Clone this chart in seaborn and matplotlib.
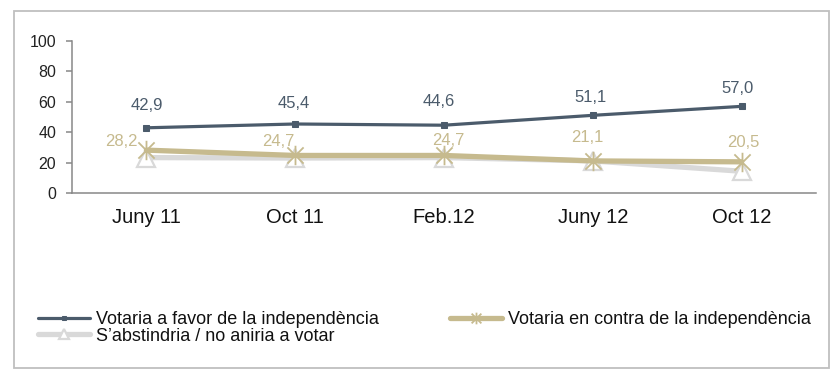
import numpy as np
import pandas as pd
import seaborn as sns
import matplotlib
matplotlib.use("Agg")
import matplotlib.pyplot as plt
from matplotlib.path import Path
from matplotlib.patches import Rectangle

# ---- data ----
categories = ["Juny 11", "Oct 11", "Feb.12", "Juny 12", "Oct 12"]
favor = [42.9, 45.4, 44.6, 51.1, 57.0]
contra = [28.2, 24.7, 24.7, 21.1, 20.5]
abstencio = [23.3, 23.0, 23.3, 21.1, 14.3]
series_names = ["Votaria a favor de la independència",
                "Votaria en contra de la independència",
                "S\u2019abstindria / no aniria a votar"]
yticks = [0, 20, 40, 60, 80, 100]

# ---- style ----
sns.set_theme(style="white")
plt.rcParams["font.family"] = ["Liberation Sans", "DejaVu Sans"]

C_FAV = "#4b5b6b"
C_CON = "#c6ba8e"
C_ABS = "#d9d9d9"
C_AX = "#888888"

W, H = 830, 370
fig = plt.figure(figsize=(W / 100, H / 100), dpi=100)
ax = fig.add_axes([72 / W, 1 - 193 / H, (816 - 72) / W, (193 - 41) / H])

df = pd.DataFrame({"cat": categories, "pos": np.arange(len(categories)),
                   "favor": favor, "contra": contra, "abs": abstencio})

star = Path([(-1, -1), (1, 1), (-1, 1), (1, -1), (0, -1.2), (0, 1.2)],
            [Path.MOVETO, Path.LINETO, Path.MOVETO, Path.LINETO, Path.MOVETO, Path.LINETO])

sns.lineplot(data=df, x="pos", y="abs", ax=ax, color=C_ABS, linewidth=3.8,
             marker="^", markersize=13, markerfacecolor="white",
             markeredgecolor=C_ABS, markeredgewidth=1.6, label=series_names[2], zorder=2)
sns.lineplot(data=df, x="pos", y="contra", ax=ax, color=C_CON, linewidth=3.8,
             marker=star, markersize=14, markeredgecolor=C_CON,
             markeredgewidth=1.3, label=series_names[1], zorder=3)
sns.lineplot(data=df, x="pos", y="favor", ax=ax, color=C_FAV, linewidth=2.3,
             marker="s", markersize=4.5, markeredgecolor=C_FAV,
             label=series_names[0], zorder=4)

# data labels
fav_off = [(0, 16), (-1, 15), (-4, 17), (-2, 13), (-3, 13)]
con_off = [(-18, 6), (-12, 10), (3, 11), (-4, 17), (1, 14)]
for i in range(len(categories)):
    ax.annotate(f"{favor[i]:.1f}".replace(".", ","), (i, favor[i]),
                xytext=fav_off[i], textcoords="offset points",
                ha="center", va="center", fontsize=12, color=C_FAV, zorder=6)
    ax.annotate(f"{contra[i]:.1f}".replace(".", ","), (i, contra[i]),
                xytext=con_off[i], textcoords="offset points",
                ha="center", va="center", fontsize=12, color=C_CON, zorder=6)

# axes
ax.set_xlim(-0.5, len(categories) - 0.5)
ax.set_ylim(0, 100)
ax.set_yticks(yticks)
ax.set_yticklabels([str(v) for v in yticks], fontsize=11.5, color="#222222")
ax.set_xticks(np.arange(len(categories)))
ax.set_xticklabels(categories, fontsize=14.5, color="#111111")
ax.set_xticks(np.arange(len(categories) + 1) - 0.5, minor=True)
ax.tick_params(axis="x", which="major", length=0, pad=11)
ax.tick_params(axis="x", which="minor", length=4, width=1.1, color=C_AX, direction="out")
ax.tick_params(axis="y", length=4, width=1.1, color=C_AX, direction="out", pad=7.5, left=True)
ax.set_xlabel("")
ax.set_ylabel("")
for s in ["top", "right"]:
    ax.spines[s].set_visible(False)
for s in ["left", "bottom"]:
    ax.spines[s].set_color(C_AX)
    ax.spines[s].set_linewidth(1.1)
ax.grid(False)
ax.patch.set_alpha(0)

# legends
handles, labels = ax.get_legend_handles_labels()
hd = dict(zip(labels, handles))
ax.get_legend().remove()
leg1 = fig.legend([hd[series_names[0]], hd[series_names[2]]],
                  [series_names[0], series_names[2]],
                  loc="upper left", bbox_to_anchor=(38 / W, 1 - 311 / H),
                  frameon=False, fontsize=13, handlelength=2.9, handletextpad=0.3,
                  labelspacing=-0.02, borderpad=0, borderaxespad=0, markerscale=0.6)
leg2 = fig.legend([hd[series_names[1]]], [series_names[1]],
                  loc="upper left", bbox_to_anchor=(450 / W, 1 - 311 / H),
                  frameon=False, fontsize=13, handlelength=2.9, handletextpad=0.3,
                  borderpad=0, borderaxespad=0, markerscale=0.6)
for leg in (leg1, leg2):
    for t in leg.get_texts():
        t.set_color("#111111")

# outer frame
fig.patches.append(Rectangle((13.5 / W, 1 - 367.5 / H), (829 - 13.5) / W, (367.5 - 10.5) / H,
                             transform=fig.transFigure, fill=False,
                             edgecolor="#bfbfbf", linewidth=1.3, zorder=0))

fig.savefig("out.png", dpi=100)
